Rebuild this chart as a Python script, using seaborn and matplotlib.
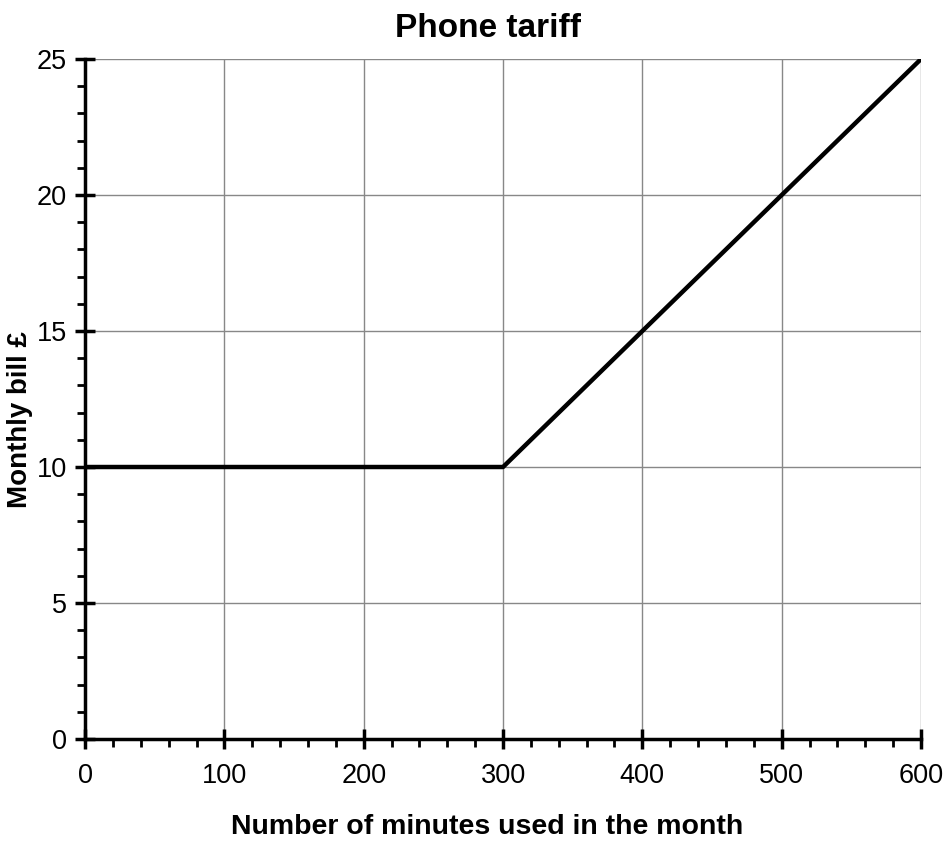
import matplotlib
matplotlib.use("Agg")
import matplotlib.pyplot as plt
import seaborn as sns
import pandas as pd
from matplotlib.ticker import MultipleLocator

# Tariff data: flat rate to 300 minutes, then rising
minutes = [0, 300, 600]
bill = [10, 10, 25]

df = pd.DataFrame({'minutes': minutes, 'bill': bill})

sns.set_style('white')
plt.rcParams['font.family'] = ['Liberation Sans', 'DejaVu Sans']
plt.rcParams['text.color'] = 'black'
plt.rcParams['axes.labelcolor'] = 'black'
plt.rcParams['xtick.color'] = 'black'
plt.rcParams['ytick.color'] = 'black'

fig = plt.figure(figsize=(9.46, 8.41), dpi=100)
ax = fig.add_axes([0.0899, 0.1213, 0.8837, 0.8085])

sns.lineplot(data=df, x='minutes', y='bill', color='black', linewidth=3.2, ax=ax)

ax.set_xlim(0, 600)
ax.set_ylim(0, 25)
ax.xaxis.set_major_locator(MultipleLocator(100))
ax.xaxis.set_minor_locator(MultipleLocator(20))
ax.yaxis.set_major_locator(MultipleLocator(5))
ax.yaxis.set_minor_locator(MultipleLocator(1))

ax.grid(True, which='major', color='#888888', linewidth=1)
ax.set_axisbelow(True)

for s in ['top', 'right']:
    ax.spines[s].set_visible(False)
for s in ['left', 'bottom']:
    ax.spines[s].set_color('black')
    ax.spines[s].set_linewidth(2.5)

ax.tick_params(which='major', direction='inout', length=15, width=2.5, color='black',
               labelsize=19.5, labelcolor='black')
ax.tick_params(axis='x', which='major', pad=10)
ax.tick_params(axis='y', which='major', pad=5.5)
ax.tick_params(which='minor', direction='out', length=6, width=2, color='black')
ax.tick_params(axis='both', which='both', bottom=True, left=True)

ax.set_title('Phone tariff', fontsize=24, fontweight='bold', pad=16, color='black', x=0.482)
ax.set_xlabel('Number of minutes used in the month', fontsize=20.5, fontweight='bold', color='black')
ax.set_ylabel('Monthly bill £', fontsize=20, fontweight='bold', color='black')
ax.xaxis.set_label_coords(0.481, -0.111)
ax.yaxis.set_label_coords(-0.062, 0.47)

fig.savefig('out.png', dpi=100)
